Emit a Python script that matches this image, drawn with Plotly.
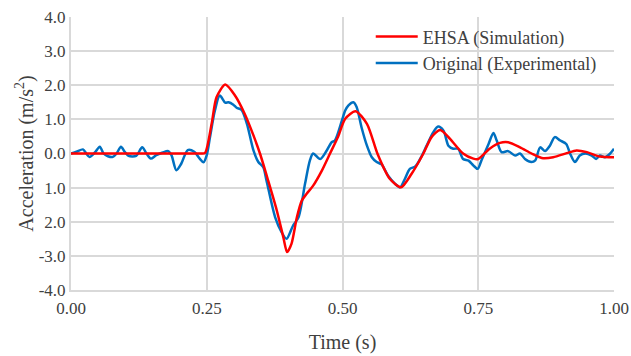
import plotly.graph_objects as go

# EHSA (Simulation)
sim_t = [0.0, 0.10, 0.20, 0.240, 0.247, 0.259, 0.268, 0.284, 0.302, 0.320, 0.336, 0.348, 0.363, 0.379,
         0.391, 0.398, 0.406, 0.416, 0.425, 0.434, 0.446, 0.462, 0.477, 0.492, 0.505, 0.524, 0.545,
         0.565, 0.587, 0.608, 0.627, 0.649, 0.664, 0.680, 0.698, 0.722, 0.741, 0.750, 0.771, 0.790,
         0.805, 0.827, 0.848, 0.867, 0.888, 0.913, 0.931, 0.950, 0.974, 1.0]
sim_a = [0.0, 0.0, 0.0, 0.0, 0.02, 0.87, 1.65, 2.02, 1.70, 1.16, 0.53, 0.0, -0.79, -1.67,
         -2.45, -2.89, -2.65, -1.87, -1.38, -1.18, -0.94, -0.50, 0.0, 0.50, 1.02, 1.24, 0.87,
         -0.03, -0.74, -0.99, -0.60, 0.0, 0.48, 0.69, 0.43, 0.0, -0.15, -0.16, 0.14, 0.31,
         0.33, 0.18, 0.0, -0.13, -0.11, 0.01, 0.09, 0.04, -0.09, -0.11]

# Original (Experimental)
exp_t = [0.0, 0.010, 0.022, 0.028, 0.034, 0.044, 0.053, 0.060, 0.068, 0.077, 0.084, 0.092, 0.099,
         0.106, 0.120, 0.131, 0.139, 0.147, 0.157, 0.169, 0.179, 0.185, 0.194, 0.203, 0.215, 0.227,
         0.237, 0.244, 0.250, 0.256, 0.265, 0.274, 0.284, 0.290, 0.299, 0.305, 0.314, 0.324, 0.336,
         0.345, 0.354, 0.360, 0.376, 0.388, 0.397, 0.409, 0.419, 0.431, 0.440, 0.446, 0.459, 0.471,
         0.480, 0.486, 0.499, 0.505, 0.511, 0.520, 0.526, 0.535, 0.545, 0.554, 0.563, 0.572, 0.584,
         0.597, 0.606, 0.615, 0.624, 0.634, 0.643, 0.655, 0.667, 0.676, 0.686, 0.695, 0.704, 0.713,
         0.722, 0.732, 0.741, 0.749, 0.756, 0.769, 0.778, 0.784, 0.793, 0.805, 0.818, 0.827, 0.836,
         0.848, 0.855, 0.864, 0.873, 0.882, 0.891, 0.901, 0.912, 0.919, 0.928, 0.937, 0.947, 0.959,
         0.967, 0.974, 0.983, 0.993, 1.0]
exp_a = [0.0, 0.05, 0.12, 0.0, -0.10, 0.03, 0.20, 0.0, -0.08, -0.10, 0.0, 0.20, 0.05,
         -0.07, -0.07, 0.18, 0.0, -0.15, -0.05, 0.03, 0.07, -0.05, -0.49, -0.30, 0.10, 0.05,
         -0.15, -0.26, -0.05, 0.48, 1.26, 1.70, 1.49, 1.50, 1.43, 1.34, 1.28, 0.87, 0.09,
         -0.25, -0.40, -0.79, -1.87, -2.31, -2.50, -2.11, -1.87, -0.89, -0.20, 0.0, -0.16, 0.09,
         0.33, 0.38, 0.97, 1.26, 1.41, 1.50, 1.36, 0.77, 0.23, -0.11, -0.25, -0.32, -0.65,
         -0.89, -0.99, -0.74, -0.45, -0.38, -0.16, 0.23, 0.62, 0.79, 0.67, 0.23, 0.14, 0.14,
         -0.16, -0.21, -0.35, -0.45, -0.20, 0.28, 0.60, 0.38, 0.04, 0.07, -0.06, 0.0, -0.16,
         -0.25, -0.20, 0.18, 0.07, 0.23, 0.48, 0.38, 0.28, 0.0, -0.25, -0.06, 0.0, -0.06,
         -0.16, -0.06, -0.11, 0.0, 0.14]

x_ticks = [0.0, 0.25, 0.5, 0.75, 1.0]
x_labels = ["0.00", "0.25", "0.50", "0.75", "1.00"]
y_ticks = [4, 3, 2, 1, 0, -1, -2, -3, -4]
y_labels = ["4.0", "3.0", "2.0", "1.0", "0.0", "1.0", "2.0", "-3.0", "-4.0"]

FONT = "Liberation Serif, serif"
TXT = "#404040"
GRID = "#d9d9d9"

fig = go.Figure()
fig.add_trace(go.Scatter(x=exp_t, y=exp_a, mode="lines", name="Original (Experimental)",
                         line=dict(color="#0070c0", width=2.5, shape="spline", smoothing=0.8)))
fig.add_trace(go.Scatter(x=sim_t, y=sim_a, mode="lines", name="EHSA (Simulation)",
                         line=dict(color="#ff0000", width=2.5, shape="spline", smoothing=0.7)))

tickfont = dict(family=FONT, size=17, color=TXT)
titlefont = dict(family=FONT, size=20, color=TXT)

fig.update_layout(
    width=631, height=356,
    margin=dict(l=71, r=17, t=17, b=66, autoexpand=False),
    paper_bgcolor="white", plot_bgcolor="white",
    font=dict(family=FONT, color=TXT, size=17),
    showlegend=True,
    legend=dict(x=0.552, y=0.995, xanchor="left", yanchor="top", traceorder="reversed",
                bgcolor="rgba(0,0,0,0)", font=dict(family=FONT, size=18, color=TXT),
                itemwidth=42, tracegroupgap=0),
    xaxis=dict(range=[0, 1], tickvals=x_ticks, ticktext=x_labels, showgrid=True,
               gridcolor=GRID, gridwidth=1.5, zeroline=False, showline=True, automargin=False,
               linecolor=GRID, linewidth=2, ticks="", ticklabelstandoff=2, tickfont=tickfont,
               ticklabeloverflow="allow",
               title=dict(text="Time (s)", font=titlefont, standoff=18)),
    yaxis=dict(range=[-4, 4], tickvals=y_ticks, ticktext=y_labels, showgrid=True,
               gridcolor=GRID, gridwidth=1.5, zeroline=False, showline=True, automargin=False,
               linecolor=GRID, linewidth=2, ticks="", ticklabelstandoff=0, tickfont=tickfont,
               ticklabeloverflow="allow",
               title=dict(text="Acceleration (m/s<sup>2</sup>)", font=titlefont, standoff=0)),
)

fig.write_html("out.html", config={"displayModeBar": False},
               post_script="document.body.style.margin='0';document.body.style.overflow='hidden';")
